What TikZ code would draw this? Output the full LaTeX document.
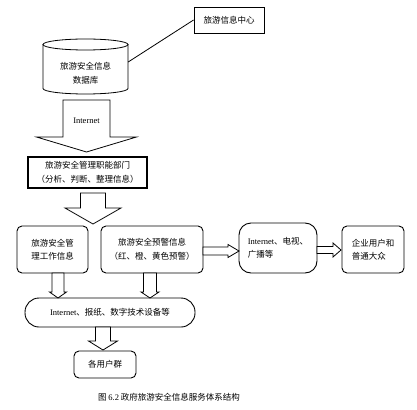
\documentclass[tikz,border=0pt]{standalone}
\usepackage{fontspec}
\setmainfont{Liberation Serif}
\newfontfamily\cjk{Noto Sans CJK SC}
\newcommand\lat[1]{{\rmfamily #1}}
% hollow block arrows: centre x, top, shoulder, tip, stem half, head half
\newcommand\hollowdn[6]{%
  \draw[line, fill=white] ({#1-#5},#2) -- ({#1-#5},#3) -- ({#1-#6},#3) -- (#1,#4)
    -- ({#1+#6},#3) -- ({#1+#5},#3) -- ({#1+#5},#2) -- cycle;}
% start x, centre y, shoulder, tip, stem half, head half
\newcommand\hollowrt[6]{%
  \draw[line, fill=white] (#1,{#2-#5}) -- (#3,{#2-#5}) -- (#3,{#2-#6}) -- (#4,#2)
    -- (#3,{#2+#6}) -- (#3,{#2+#5}) -- (#1,{#2+#5}) -- cycle;}
\tikzset{
  line/.style={line width=0.8pt},
  txt/.style={align=center, inner sep=1pt, font=\cjk\fontsize{8.5}{13.5}\selectfont},
  box/.style={txt, draw, line width=0.9pt, rounded corners=5pt},
  plainbox/.style={txt, draw, line width=0.9pt, sharp corners},
}
\begin{document}
\begin{tikzpicture}[x=1pt,y=-1pt]
  \useasboundingbox (0,0) rectangle (417,409);

  % database and information centre
  \draw[line, fill=white] (43,44.5) -- (43,88.5) arc[start angle=180, end angle=0, x radius=42.5, y radius=5.5] -- (128,44.5);
  \draw[line] (85.5,44.5) ellipse[x radius=42.5, y radius=5.5];
  \node[txt, minimum width=85pt] (db) at (85.5,73) {旅游安全信息\\数据库};
  \node[plainbox, minimum width=70pt, minimum height=26pt] (info) at (229,20) {旅游信息中心};
  \draw[line] ([yshift=11pt]db.east) -- (info.west);

  % management department
  \hollowdn{86.5}{100}{137}{152}{23.5}{50}
  \node[txt] (net) at (86.5,121) {\lat{Internet}};
  \node[plainbox, line width=1.8pt, minimum width=119pt, minimum height=31pt] (dept) at (87.5,172.5) {旅游安全管理职能部门\\（分析、判断、整理信息）};
  \hollowdn{93}{193}{208}{224}{12.5}{28}

  % information row
  \node[box, align=left, minimum width=71pt, minimum height=47pt] (work) at (52.5,249.5) {旅游安全管\\理工作信息};
  \node[box, minimum width=102pt, minimum height=47pt] (warn) at (152,249.5) {旅游安全预警信息\\（红、橙、黄色预警）};
  \node[box, align=left, rounded corners=12pt, minimum width=78pt, minimum height=50pt] (media) at (278,248) {\lat{Internet}、电视、\\广播等};
  \node[box, align=left, minimum width=62pt, minimum height=47pt] (public) at (373,249.5) {企业用户和\\普通大众};
  \hollowrt{203}{251}{228}{239}{4}{6.5}
  \hollowrt{317}{250}{333}{341}{3.5}{7}

  % channels and users
  \hollowdn{58}{273}{292}{298}{6}{8.5}
  \hollowdn{150}{273}{292}{298}{6.5}{9}
  \node[box, rounded corners=14pt, minimum width=170pt, minimum height=29pt] (chan) at (110,312.5) {\lat{Internet}、报纸、数字技术设备等};
  \hollowdn{103}{327}{341}{350}{7.5}{14.5}
  \node[box, minimum width=62pt, minimum height=27pt] (users) at (105,364.5) {各用户群};

  \node[txt] (cap) at (169,397) {图 \lat{6.2} 政府旅游安全信息服务体系结构};
\end{tikzpicture}
\end{document}
